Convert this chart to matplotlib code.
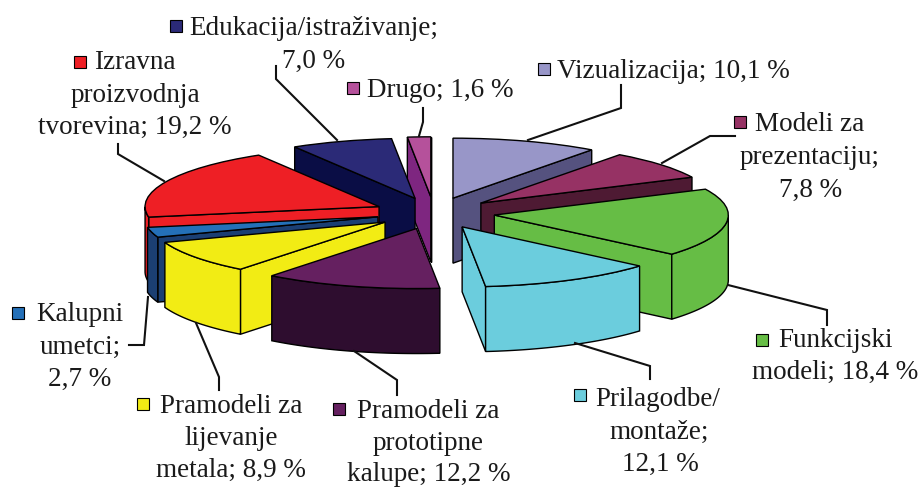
import numpy as np
import matplotlib
matplotlib.use('Agg')
import matplotlib.pyplot as plt

plt.rcParams['font.family'] = ['Liberation Serif', 'DejaVu Serif']

W, H = 921, 487

# shares of the pie, clockwise from the top
names = ['Vizualizacija', 'Modeli za prezentaciju', 'Funkcijski modeli', 'Prilagodbe/montaže',
         'Pramodeli za prototipne kalupe', 'Pramodeli za lijevanje metala', 'Kalupni umetci',
         'Izravna proizvodnja tvorevina', 'Edukacija/istraživanje', 'Drugo']
values = [10.1, 7.8, 18.4, 12.1, 12.2, 8.9, 2.7, 19.2, 7.0, 1.6]
explode = [.26, .26, .26, .26, .27, .258, .248, .258, .257, .27]

top_colors = ['#9896C8', '#963264', '#66BD45', '#6BCDDD', '#652060',
              '#F2EC14', '#2470B8', '#EE1F25', '#2B2A77', '#B5519B']
side_colors = ['#55527F', '#4E1A33', '#66BD45', '#6BCDDD', '#2E0D2F',
               '#F2EC14', '#1B3F73', '#EE1F25', '#0A0D45', '#7E2680']

# painter's order, back to front
draw_order = [9, 8, 7, 6, 5, 4, 0, 1, 2, 3]

# label text, one entry per line: (line, x centre, baseline y)
label_lines = [
    [('Vizualizacija; 10,1 %', 673, 78)],
    [('Modeli za', 810, 131), ('prezentaciju;', 810, 164), ('7,8 %', 811, 197)],
    [('Funkcijski', 836, 347), ('modeli; 18,4 %', 835, 379)],
    [('Prilagodbe/', 658, 406), ('montaže;', 659, 439), ('12,1 %', 660, 471)],
    [('Pramodeli za', 428, 418), ('prototipne', 428, 450), ('kalupe; 12,2 %', 429, 481)],
    [('Pramodeli za', 231, 413), ('lijevanje', 231, 445), ('metala; 8,9 %', 231, 477)],
    [('Kalupni', 80, 321), ('umetci;', 80, 354), ('2,7 %', 80, 386)],
    [('Izravna', 135, 69), ('proizvodnja', 135, 102), ('tvorevina; 19,2 %', 135, 134)],
    [('Edukacija/istraživanje;', 314, 35), ('7,0 %', 314, 68)],
    [('Drugo; 1,6 %', 440, 97)],
]
marker_x = [544, 740, 762, 580, 339, 143, 18, 80, 176, 353]
marker_y = [69, 122, 340, 395, 409, 404, 313, 62, 26, 88]
leaders = [
    [(621, 85), (621, 108), (528, 140)],
    [(735, 136), (710, 136), (662, 163)],
    [(827, 325), (827, 310), (728, 285)],
    [(650, 379), (650, 366), (575, 343)],
    [(397, 395), (397, 380), (354, 351)],
    [(219, 390), (219, 377), (196, 323)],
    [(129, 345), (144, 345), (148, 297)],
    [(118, 144), (118, 154), (164, 181)],
    [(276, 66), (276, 79), (337, 140)],
    [(423, 108), (423, 122), (419, 136)],
]

# pie geometry in pixels
cx, cy = 434, 213
rx, ry = 234, 60
depth = 65 / ry

fig = plt.figure(figsize=(W / 100, H / 100), dpi=100)
ax = fig.add_axes([0, 0, 1, 1])
wedges, _ = ax.pie(values, explode=explode, startangle=90, counterclock=False, colors=top_colors,
                   wedgeprops={'edgecolor': 'black', 'linewidth': 1})

for rank, i in enumerate(draw_order):
    w = wedges[i]
    x0, y0 = w.center
    z = 10 + 3 * rank
    w.set_zorder(z + 2)
    side = {'facecolor': side_colors[i], 'edgecolor': 'black', 'linewidth': 1, 'zorder': z}

    # the two cut faces, only where they look towards the viewer
    t1, t2 = np.radians(w.theta1), np.radians(w.theta2)
    for t, show in ((t1, np.cos(t1) > 0), (t2, np.cos(t2) < 0)):
        if show:
            xs = [x0, x0 + np.cos(t), x0 + np.cos(t), x0]
            ys = [y0, y0 + np.sin(t), y0 + np.sin(t) - depth, y0 - depth]
            ax.fill(xs, ys, **side)

    # outer rim, front half only
    t = np.linspace(t1, t2, 300)
    t = t[np.sin(t) < 0]
    if len(t):
        xs = np.r_[x0 + np.cos(t), x0 + np.cos(t[::-1])]
        ys = np.r_[y0 + np.sin(t), y0 + np.sin(t[::-1]) - depth]
        ax.fill(xs, ys, **{**side, 'zorder': z + 1})

ax.set_aspect('auto')
ax.set_xlim(-cx / rx, (W - cx) / rx)
ax.set_ylim(-(H - cy) / ry, cy / ry)
ax.axis('off')

# overlay in pixel coordinates for labels and leader lines
ov = fig.add_axes([0, 0, 1, 1])
ov.set_xlim(0, W)
ov.set_ylim(H, 0)
ov.axis('off')
ov.patch.set_alpha(0)

for path in leaders:
    ov.plot([p[0] for p in path], [p[1] for p in path], color='#111111', lw=1.5, solid_joinstyle='miter')
for i, lines in enumerate(label_lines):
    for txt, x, y in lines:
        ov.text(x, y, txt, ha='center', va='baseline', fontsize=19.5, color='#1a1a1a')
    ov.plot(marker_x[i], marker_y[i], 's', ms=8, mfc=top_colors[i], mec='black', mew=0.8)

fig.savefig('out.png', dpi=100)
